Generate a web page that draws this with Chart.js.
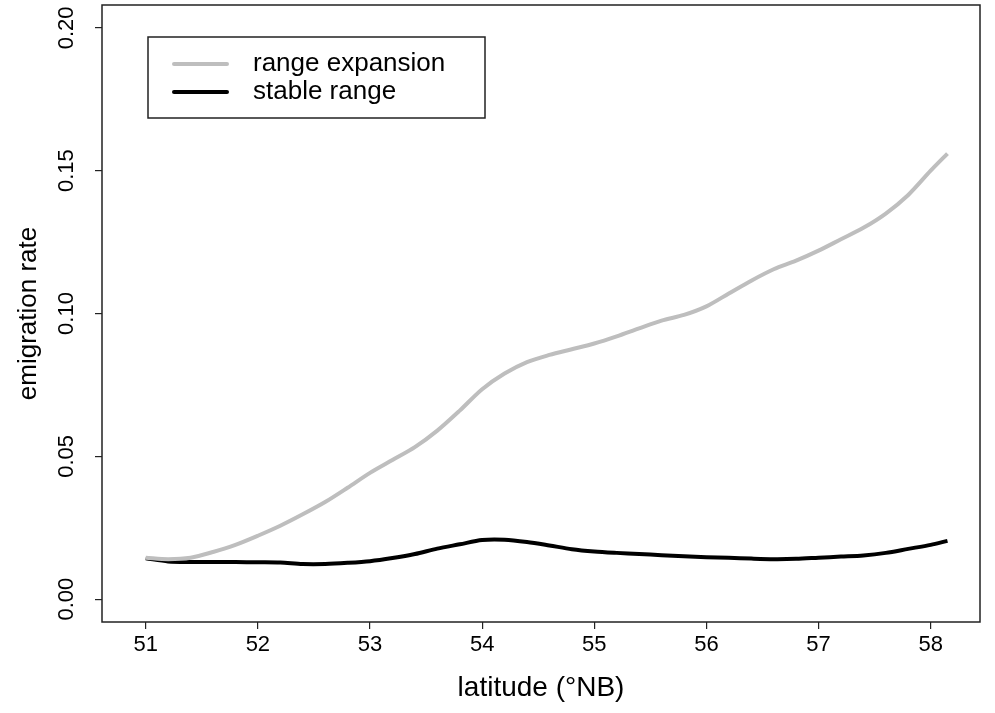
<!DOCTYPE html>
<html>
<head>
<meta charset="utf-8">
<script src="https://cdn.jsdelivr.net/npm/chart.js@4.4.1/dist/chart.umd.min.js"></script>
<style>
  html, body { margin: 0; padding: 0; background: #fff; }
  #wrap { width: 995px; height: 713px; }
</style>
</head>
<body>
<div id="wrap"><canvas id="emigChart"></canvas></div>
<script>
// ===================================================================
// DATA
// ===================================================================
const latitude = [51.0, 51.2, 51.4, 51.6, 51.8, 52.0, 52.2, 52.4, 52.6, 52.8,
  53.0, 53.2, 53.4, 53.6, 53.8, 54.0, 54.2, 54.4, 54.6, 54.8,
  55.0, 55.2, 55.4, 55.6, 55.8, 56.0, 56.2, 56.4, 56.6, 56.8,
  57.0, 57.2, 57.4, 57.6, 57.8, 58.0, 58.15];

const rangeExpansion = [0.0145, 0.0140, 0.0145, 0.0165, 0.0190, 0.0222, 0.0257, 0.0297, 0.0340, 0.0390,
  0.0442, 0.0487, 0.0532, 0.0590, 0.0660, 0.0735, 0.0790, 0.0830, 0.0855, 0.0875,
  0.0895, 0.0920, 0.0948, 0.0975, 0.0995, 0.1025, 0.1070, 0.1115, 0.1155, 0.1185,
  0.1220, 0.1260, 0.1300, 0.1350, 0.1415, 0.1500, 0.1560];

const stableRange = [0.0143, 0.0132, 0.0130, 0.0130, 0.0130, 0.0129, 0.0128, 0.0123, 0.0123, 0.0127,
  0.0133, 0.0144, 0.0158, 0.0177, 0.0192, 0.0207, 0.0208, 0.0200, 0.0188, 0.0175,
  0.0167, 0.0162, 0.0158, 0.0154, 0.0150, 0.0147, 0.0145, 0.0142, 0.0140, 0.0141,
  0.0145, 0.0149, 0.0153, 0.0162, 0.0176, 0.0190, 0.0204];

const seriesLabels = ['range expansion', 'stable range'];
const xTicks = [51, 52, 53, 54, 55, 56, 57, 58];
const yTicks = [0.00, 0.05, 0.10, 0.15, 0.20];

const FONT = "'Liberation Sans', Arial, sans-serif";

const toPoints = (xs, ys) => xs.map((x, i) => ({ x: x, y: ys[i] }));

// ===================================================================
// PLUGIN: box, rotated y labels, legend inside the plot (R style)
// ===================================================================
const rStyle = {
  id: 'rStyle',
  afterDraw(chart) {
    const ctx = chart.ctx;
    const area = chart.chartArea;
    const yScale = chart.scales.y;

    ctx.save();
    // plot box
    ctx.strokeStyle = '#222';
    ctx.lineWidth = 1.5;
    ctx.strokeRect(area.left, area.top, area.right - area.left, area.bottom - area.top);

    // y tick labels, rotated like R's las = 0
    ctx.fillStyle = '#000';
    ctx.font = '22px ' + FONT;
    ctx.textAlign = 'center';
    ctx.textBaseline = 'middle';
    yTicks.forEach(v => {
      const py = yScale.getPixelForValue(v);
      ctx.save();
      ctx.translate(67, py);
      ctx.rotate(-Math.PI / 2);
      ctx.fillText(v.toFixed(2), 0, 0);
      ctx.restore();
    });

    // y axis title
    ctx.save();
    ctx.font = '26px ' + FONT;
    ctx.translate(29, (area.top + area.bottom) / 2);
    ctx.rotate(-Math.PI / 2);
    ctx.fillText('emigration rate', 0, 0);
    ctx.restore();

    // legend box
    const lx = 148, ly = 37, lw = 337, lh = 81;
    ctx.fillStyle = '#fff';
    ctx.fillRect(lx, ly, lw, lh);
    ctx.strokeStyle = '#222';
    ctx.lineWidth = 1.5;
    ctx.strokeRect(lx, ly, lw, lh);
    ctx.font = '26px ' + FONT;
    ctx.textAlign = 'left';
    chart.data.datasets.forEach((ds, i) => {
      const rowY = 64 + i * 28;
      ctx.strokeStyle = ds.borderColor;
      ctx.lineWidth = 4;
      ctx.lineCap = 'round';
      ctx.beginPath();
      ctx.moveTo(174, rowY);
      ctx.lineTo(227, rowY);
      ctx.stroke();
      ctx.fillStyle = '#000';
      ctx.fillText(ds.label, 253, rowY);
    });
    ctx.restore();
  }
};

// ===================================================================
// LINE CHART: emigration rate vs latitude
// ===================================================================
const ctx = document.getElementById('emigChart').getContext('2d');
const emigChart = new Chart(ctx, {
  type: 'line',
  data: {
    datasets: [
      {
        label: seriesLabels[0],
        data: toPoints(latitude, rangeExpansion),
        borderColor: '#bebebe',
        borderWidth: 4,
        pointRadius: 0,
        tension: 0.3,
        fill: false
      },
      {
        label: seriesLabels[1],
        data: toPoints(latitude, stableRange),
        borderColor: '#000',
        borderWidth: 4,
        pointRadius: 0,
        tension: 0.3,
        fill: false
      }
    ]
  },
  options: {
    responsive: true,
    maintainAspectRatio: false,
    animation: false,
    layout: {
      padding: { top: 5, right: 15, left: 0, bottom: 0 }
    },
    scales: {
      x: {
        type: 'linear',
        min: 50.61,
        max: 58.44,
        afterBuildTicks: scale => { scale.ticks = xTicks.map(v => ({ value: v })); },
        afterFit: scale => { scale.height = 91; },
        border: { display: false },
        grid: {
          drawOnChartArea: false,
          drawTicks: true,
          tickLength: 7,
          color: '#222',
          lineWidth: 1.2
        },
        ticks: {
          color: '#000',
          padding: 3,
          maxRotation: 0,
          font: { family: FONT, size: 22 },
          callback: v => String(v)
        },
        title: {
          display: true,
          text: 'latitude (°NB)',
          color: '#000',
          font: { family: FONT, size: 28 },
          padding: { top: 0, bottom: 8 }
        }
      },
      y: {
        type: 'linear',
        min: -0.008,
        max: 0.208,
        afterBuildTicks: scale => { scale.ticks = yTicks.map(v => ({ value: v })); },
        afterFit: scale => { scale.width = 102; },
        border: { display: false },
        grid: {
          drawOnChartArea: false,
          drawTicks: true,
          tickLength: 7,
          color: '#222',
          lineWidth: 1.2
        },
        ticks: { display: false }
      }
    },
    plugins: {
      legend: { display: false },
      tooltip: { enabled: false }
    }
  },
  plugins: [rStyle]
});
</script>
</body>
</html>
